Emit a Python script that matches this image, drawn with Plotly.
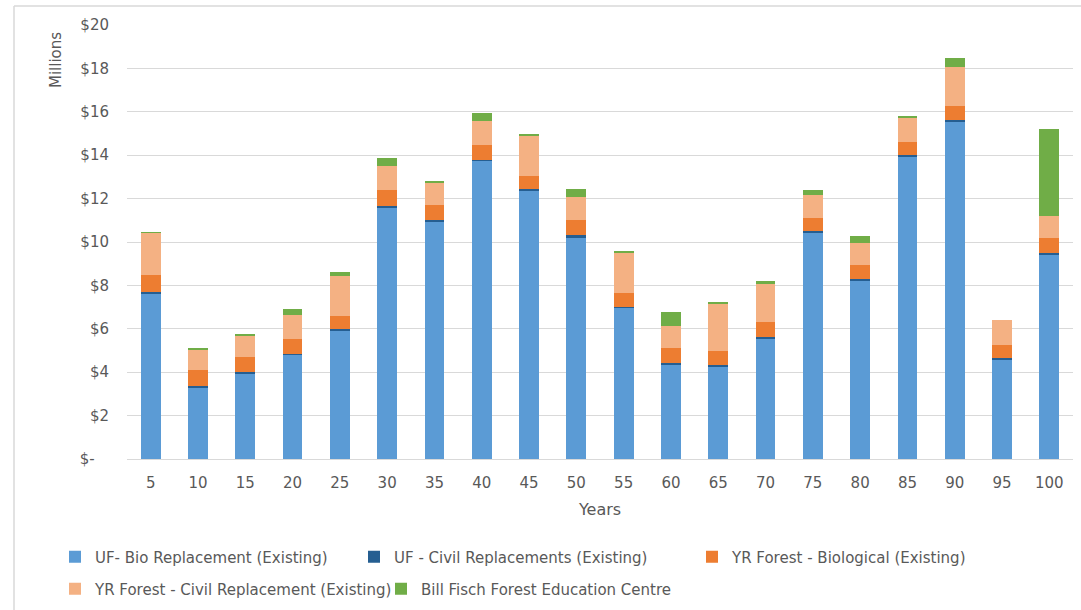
import plotly.graph_objects as go

years = ["5", "10", "15", "20", "25", "30", "35", "40", "45", "50",
         "55", "60", "65", "70", "75", "80", "85", "90", "95", "100"]

uf_bio = [7.63, 3.30, 3.95, 4.81, 5.91, 11.61, 10.94, 13.75, 12.37, 10.23,
          6.97, 4.35, 4.27, 5.55, 10.43, 8.22, 13.93, 15.55, 4.59, 9.43]
uf_civil = [0.07, 0.08, 0.04, 0.04, 0.08, 0.05, 0.07, 0.04, 0.06, 0.08,
            0.05, 0.07, 0.05, 0.07, 0.08, 0.07, 0.08, 0.06, 0.06, 0.08]
yr_bio = [0.79, 0.72, 0.70, 0.70, 0.62, 0.74, 0.70, 0.70, 0.61, 0.69,
          0.65, 0.68, 0.66, 0.71, 0.61, 0.65, 0.60, 0.67, 0.62, 0.67]
yr_civil = [1.94, 0.95, 1.01, 1.09, 1.84, 1.10, 1.01, 1.10, 1.88, 1.06,
            1.84, 1.04, 2.19, 1.78, 1.06, 1.00, 1.15, 1.80, 1.12, 1.03]
bill_fisch = [0.03, 0.08, 0.06, 0.29, 0.17, 0.37, 0.06, 0.34, 0.07, 0.38,
              0.06, 0.63, 0.08, 0.09, 0.22, 0.32, 0.05, 0.38, 0.00, 4.01]

series_names = ["UF- Bio Replacement (Existing)",
                "UF - Civil Replacements (Existing)",
                "YR Forest - Biological (Existing)",
                "YR Forest - Civil Replacement (Existing)",
                "Bill Fisch Forest Education Centre"]
series_values = [uf_bio, uf_civil, yr_bio, yr_civil, bill_fisch]
series_colors = ["#5B9BD5", "#255E91", "#ED7D31", "#F4B183", "#70AD47"]

y_tickvals = [0, 2, 4, 6, 8, 10, 12, 14, 16, 18, 20]
y_ticktext = ["$-\u00a0\u00a0\u00a0", "$2", "$4", "$6", "$8", "$10", "$12", "$14", "$16", "$18", "$20"]

FONT = "DejaVu Sans"
GREY = "#595959"

# plot area in pixels
L, R, T, B = 127, 1073, 25, 459
W, H = 1081, 610


def px_x(p):
    return (p - L) / (R - L)


def px_y(p):
    return (B - p) / (B - T)


legend_ids = ["legend", "legend2", "legend3", "legend4", "legend5"]
legend_pos = [(55, 557), (354, 557), (692, 557), (55, 589), (381, 589)]

fig = go.Figure()
for name, vals, col, lid in zip(series_names, series_values, series_colors, legend_ids):
    fig.add_trace(go.Bar(x=years, y=vals, name=name, marker_color=col,
                         marker_line_width=0, legend=lid))

legend_layout = {}
for lid, (lx, ly) in zip(legend_ids, legend_pos):
    legend_layout[lid] = dict(
        x=px_x(lx), y=px_y(ly), xanchor="left", yanchor="middle",
        orientation="h", bgcolor="rgba(0,0,0,0)",
        font=dict(family=FONT, size=15, color=GREY),
    )

fig.update_layout(
    width=W, height=H,
    margin=dict(l=L, r=W - R, t=T, b=H - B, autoexpand=False),
    barmode="stack", bargap=0.58,
    plot_bgcolor="white", paper_bgcolor="white",
    font=dict(family=FONT, size=15, color=GREY),
    showlegend=True,
    **legend_layout,
)

fig.update_xaxes(
    type="category", showgrid=False, automargin=False,
    showline=True, linecolor="#D9D9D9", linewidth=1,
    ticks="outside", ticklen=10, tickcolor="rgba(0,0,0,0)",
    tickfont=dict(family=FONT, size=15, color=GREY),
    title=dict(text="Years", font=dict(family=FONT, size=16, color=GREY), standoff=12),
)
fig.update_yaxes(
    range=[0, 20], tickvals=y_tickvals, ticktext=y_ticktext, automargin=False,
    showgrid=True, gridcolor="#D9D9D9", gridwidth=1,
    zeroline=False, showline=False,
    ticks="outside", ticklen=14, tickcolor="rgba(0,0,0,0)",
    tickfont=dict(family=FONT, size=15, color=GREY),
)

fig.add_annotation(
    text="Millions", textangle=-90, showarrow=False,
    xref="paper", yref="paper", x=px_x(56), y=px_y(60),
    xanchor="center", yanchor="middle",
    font=dict(family=FONT, size=15, color=GREY),
)

# chart-area border (left and top edges visible)
fig.add_shape(type="line", xref="paper", yref="paper",
              x0=px_x(14), x1=px_x(14), y0=px_y(6), y1=px_y(620),
              line=dict(color="#D9D9D9", width=1.5))
fig.add_shape(type="line", xref="paper", yref="paper",
              x0=px_x(14), x1=px_x(1090), y0=px_y(6), y1=px_y(6),
              line=dict(color="#D9D9D9", width=1.5))

fig.write_html("out.html")
